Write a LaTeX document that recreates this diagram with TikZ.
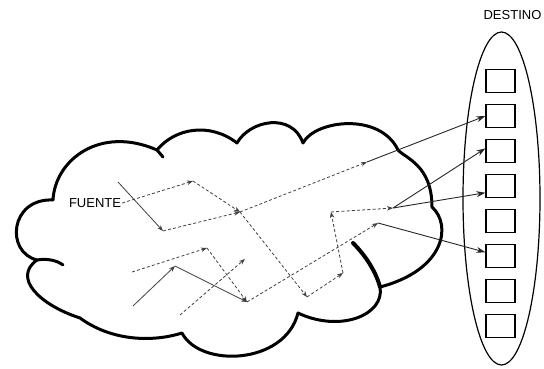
\documentclass[tikz,border=0pt]{standalone}
\usepackage{fontspec}
\setmainfont{Liberation Sans}
\usetikzlibrary{arrows.meta,shapes.geometric}
\begin{document}
\begin{tikzpicture}[x=1pt,y=-1pt,
  cloud/.style={line width=3pt, line join=round, line cap=round},
  dsh/.style={draw=black!75, line width=0.8pt, dash pattern=on 3pt off 2.2pt, -{Stealth[length=6pt,width=4.5pt]}},
  sld/.style={draw=black!75, line width=0.8pt, -{Stealth[length=6pt,width=4.5pt]}},
  outarrow/.style={draw=black!85, line width=0.9pt, -{Stealth[length=9pt,width=6pt]}},
  slot/.style={draw, line width=1.2pt, minimum width=29pt, minimum height=23.5pt, inner sep=0pt},
  lbl/.style={font=\fontsize{13}{15}\selectfont, inner sep=0pt}]
\useasboundingbox (0,0) rectangle (544,369);
% cloud
\draw[cloud] (157,150) .. controls (175,128) and (210,122) .. (237,143)
  .. controls (250,120) and (292,112) .. (303,143)
  .. controls (315,120) and (380,112) .. (398,150)
  .. controls (405,158) and (432,165) .. (432,207)
  .. controls (452,225) and (445,270) .. (380,287)
  .. controls (385,315) and (340,333) .. (298,313)
  .. controls (285,365) and (200,368) .. (182,333)
  .. controls (150,343) and (110,340) .. (80,318)
  .. controls (40,305) and (12,278) .. (37,260)
  .. controls (5,252) and (10,198) .. (53,200)
  .. controls (55,160) and (100,125) .. (157,150);
\draw[cloud] (157,150) -- (163,157);
\draw[cloud] (37,260) .. controls (48,258) and (58,261) .. (63,265);
\draw[line width=4pt, line cap=round] (353,243) .. controls (366,256) and (376,272) .. (380,287);
% destination
\node[draw, ellipse, line width=1.2pt, minimum width=77pt, minimum height=333pt, inner sep=0pt] (dest) at (501.5,198.5) {};
\foreach \i in {1,...,8} \node[slot] (b\i) at (500.5,{81+35*(\i-1)}) {};
\node[lbl] (dst) at (512.5,15.5) {DESTINO};
\node[lbl] (src) at (95,203) {FUENTE};
% junctions
\coordinate (s1) at (118,182);
\coordinate (p1) at (163,231);
\coordinate (p2) at (193,181);
\coordinate (m1) at (240,212);
\coordinate (q1) at (367,162);
\coordinate (q2) at (307,297);
\coordinate (q3) at (343,273);
\coordinate (q4) at (331,212);
\coordinate (q5) at (393,208);
\coordinate (s2) at (132,272);
\coordinate (p3) at (207,248);
\coordinate (m2) at (247,302);
\coordinate (s3) at (133,306);
\coordinate (p4) at (175,266);
\coordinate (s4) at (180,315);
\coordinate (p5) at (245,259);
\coordinate (q6) at (378,223);
% paths
\draw[sld] (s1) -- (p1);
\draw[dsh] ([xshift=1pt]src.east) -- (p2);
\draw[dsh] (p2) -- (m1);
\draw[dsh] (p1) -- (m1);
\draw[dsh] (m1) -- (q1);
\draw[dsh] (m1) -- (q2);
\draw[dsh] (q2) -- (q3);
\draw[dsh] (q3) -- (q4);
\draw[dsh] (q4) -- (q5);
\draw[dsh] (s2) -- (p3);
\draw[dsh] (p3) -- (m2);
\draw[sld] (s3) -- (p4);
\draw[sld] (p4) -- (m2);
\draw[dsh] (s4) -- (p5);
\draw[dsh] (m2) -- (q6);
\draw[outarrow] (q1) -- (b2.west);
\draw[outarrow] (q5) -- (b3.170);
\draw[outarrow] (q5) -- (b4.204);
\draw[outarrow] (q6) -- (b6.166);
\end{tikzpicture}
\end{document}
